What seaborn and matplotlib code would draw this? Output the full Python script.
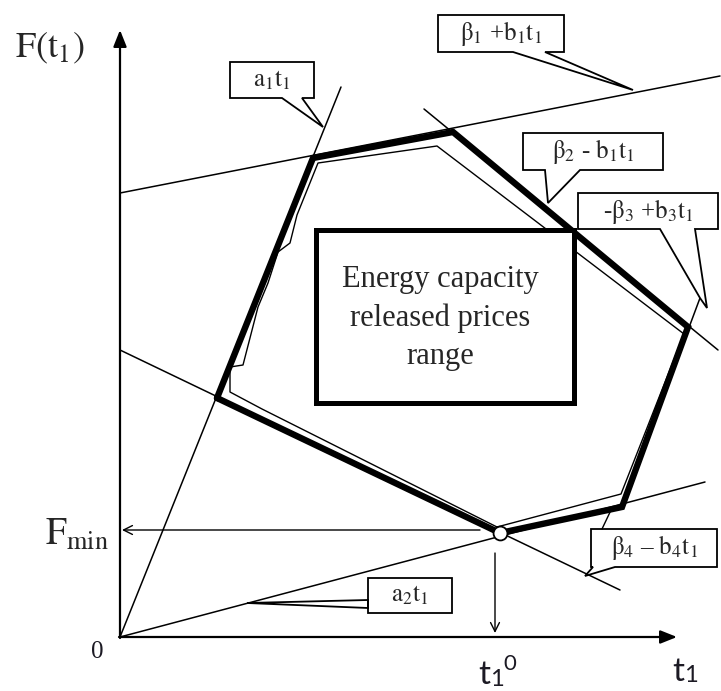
import numpy as np
import pandas as pd
import seaborn as sns
import matplotlib.pyplot as plt
from matplotlib.patches import Polygon, Rectangle

# Feasible price range (thick outline), in units of t1 and F(t1)
region_t = [9.7, 19.3, 33.3, 56.8, 50.2, 38.0, 9.7]
region_F = [23.9, 47.9, 50.5, 31.0, 13.0, 10.4, 23.9]

# Approximated boundary (thin outline)
inner_t = [37.7, 14.2, 11.0, 11.0, 12.3, 13.8, 14.8, 15.8, 17.0, 17.7, 19.8, 31.7, 56.4, 50.1, 37.7]
inner_F = [11.0, 22.8, 24.5, 27.0, 27.2, 33.0, 35.4, 38.5, 39.4, 42.2, 47.4, 49.1, 30.3, 14.3, 11.0]

# Constraint lines (start / end points)
line_names = ['a1t1', 'a2t1', 'beta1', 'beta2', 'beta3', 'beta4']
line_t_start = [0.0, 0.0, 0.0, 30.4, 50.2, 0.0]
line_F_start = [0.0, 0.0, 44.4, 52.8, 13.0, 28.7]
line_t_end = [22.1, 58.5, 60.0, 59.8, 58.0, 50.0]
line_F_end = [55.0, 15.5, 56.1, 28.7, 33.9, 4.7]

# Optimum
t_opt = 38.0
F_min = 10.4

lines = pd.DataFrame({
    'name': line_names * 2,
    't': line_t_start + line_t_end,
    'F': line_F_start + line_F_end,
})

sns.set_theme(style='white')
plt.rcParams['font.family'] = ['Liberation Serif', 'DejaVu Serif']
plt.rcParams['mathtext.fontset'] = 'stix'

fig = plt.figure(figsize=(7.21, 6.91), dpi=100)
ax = fig.add_axes([0, 0, 1, 1])
ax.set_xlim(-12.0, 60.1)
ax.set_ylim(-5.4, 63.7)
ax.axis('off')

# constraint lines
sns.lineplot(data=lines, x='t', y='F', units='name', estimator=None, sort=False,
             color='black', lw=1.1, ax=ax, legend=False)

# thin and thick outlines
sns.lineplot(x=inner_t, y=inner_F, sort=False, estimator=None, color='black',
             lw=1.0, ax=ax)
sns.lineplot(x=region_t, y=region_F, sort=False, estimator=None, color='black',
             lw=4.6, ax=ax, zorder=4)
ax.lines[-1].set_solid_joinstyle('miter')

# axes with arrows
ax.annotate('', xy=(0, 60.7), xytext=(0, -0.1),
            arrowprops=dict(arrowstyle='-|>,head_length=0.5,head_width=0.2', color='black',
                            lw=1.6, mutation_scale=20, shrinkA=0, shrinkB=0))
ax.annotate('', xy=(55.7, 0), xytext=(-0.1, 0),
            arrowprops=dict(arrowstyle='-|>,head_length=0.5,head_width=0.2', color='black',
                            lw=1.6, mutation_scale=20, shrinkA=0, shrinkB=0))

# projections of the optimum
ax.annotate('', xy=(0.2, 10.7), xytext=(36.0, 10.7),
            arrowprops=dict(arrowstyle='->', color='black', lw=1.0,
                            mutation_scale=16, shrinkA=0, shrinkB=0))
ax.annotate('', xy=(37.5, 0.4), xytext=(37.5, 8.4),
            arrowprops=dict(arrowstyle='->', color='black', lw=1.0,
                            mutation_scale=16, shrinkA=0, shrinkB=0))
ax.plot(t_opt, F_min, 'o', ms=10, mfc='white', mec='black', mew=1.3, zorder=6)

# central box
ax.add_patch(Rectangle((19.6, 23.4), 25.8, 17.3, facecolor='white',
                       edgecolor='black', lw=3.6, zorder=5))
ax.text(32.0, 31.9, 'Energy capacity\nreleased prices\nrange', ha='center',
        va='center', fontsize=22, linespacing=1.42, zorder=6)


def callout(label, left, bottom, right, top, side, pointer):
    b1, b2 = pointer[0], pointer[1]
    tips = pointer[2:]
    if side == 'bottom':
        pts = [(left, top), (right, top), (right, bottom), (b2, bottom)]
        pts += tips
        pts += [(b1, bottom), (left, bottom)]
    else:  # left
        pts = [(left, top), (right, top), (right, bottom), (left, bottom),
               (left, b2)] + tips + [(left, b1)]
    ax.add_patch(Polygon(pts, closed=True, facecolor='white',
                         edgecolor='black', lw=1.3, zorder=7))
    ax.text((left + right) / 2, (top + bottom) / 2, label, ha='center',
            va='center', fontsize=18, zorder=8)


callout(r'$\mathrm{a_1t_1}$', 11.0, 53.9, 19.4, 57.5, 'bottom',
        [16.2, 18.2, (20.3, 51.0)])
callout(r'$\mathrm{\beta_1}$ +$\mathrm{b_1t_1}$', 31.8, 58.5, 44.4, 62.2, 'bottom',
        [39.3, 42.5, (51.3, 54.7)])
callout(r'$\mathrm{\beta_2}$ - $\mathrm{b_1t_1}$', 40.3, 46.7, 54.3, 50.4, 'bottom',
        [42.5, 46.0, (42.8, 43.4)])
callout(r'-$\mathrm{\beta_3}$ +$\mathrm{b_3t_1}$', 45.8, 40.8, 59.8, 44.4, 'bottom',
        [54.0, 57.5, (58.7, 32.9), (58.0, 33.9)])
callout(r'$\mathrm{\beta_4}$ – $\mathrm{b_4t_1}$', 47.1, 7.0, 59.7, 10.8, 'bottom',
        [47.3, 49.5, (46.5, 6.1)])
callout(r'$\mathrm{a_2t_1}$', 24.8, 2.4, 33.2, 5.9, 'left',
        [2.9, 3.7, (12.7, 3.4)])
ax.plot([48.2, 49.2], [10.8, 12.9], color='black', lw=1.0, zorder=7)

# axis labels
ax.text(-7.0, 58.9, r'$\mathrm{F(t_1)}$', ha='center', va='center', fontsize=26)
ax.text(-1.1, 10.2, r'$\mathrm{F_{min}}$', ha='right', va='center', fontsize=27)
ax.text(-2.3, -1.5, '0', ha='center', va='center', fontsize=18, color='#1c1a24')

sans = ['Lato', 'DejaVu Sans']
dark = '#1c1a24'
ax.text(37.0, -3.8, 't', ha='right', va='center', fontsize=24, family=sans, color=dark)
ax.text(37.0, -4.3, '1', ha='left', va='center', fontsize=17, family=sans, color=dark)
ax.text(38.3, -2.7, '0', ha='left', va='center', fontsize=16, family=sans, color=dark)
ax.text(56.4, -3.5, 't', ha='right', va='center', fontsize=24, family=sans, color=dark)
ax.text(56.4, -3.9, '1', ha='left', va='center', fontsize=17, family=sans, color=dark)

fig.savefig('out.png', dpi=100)
